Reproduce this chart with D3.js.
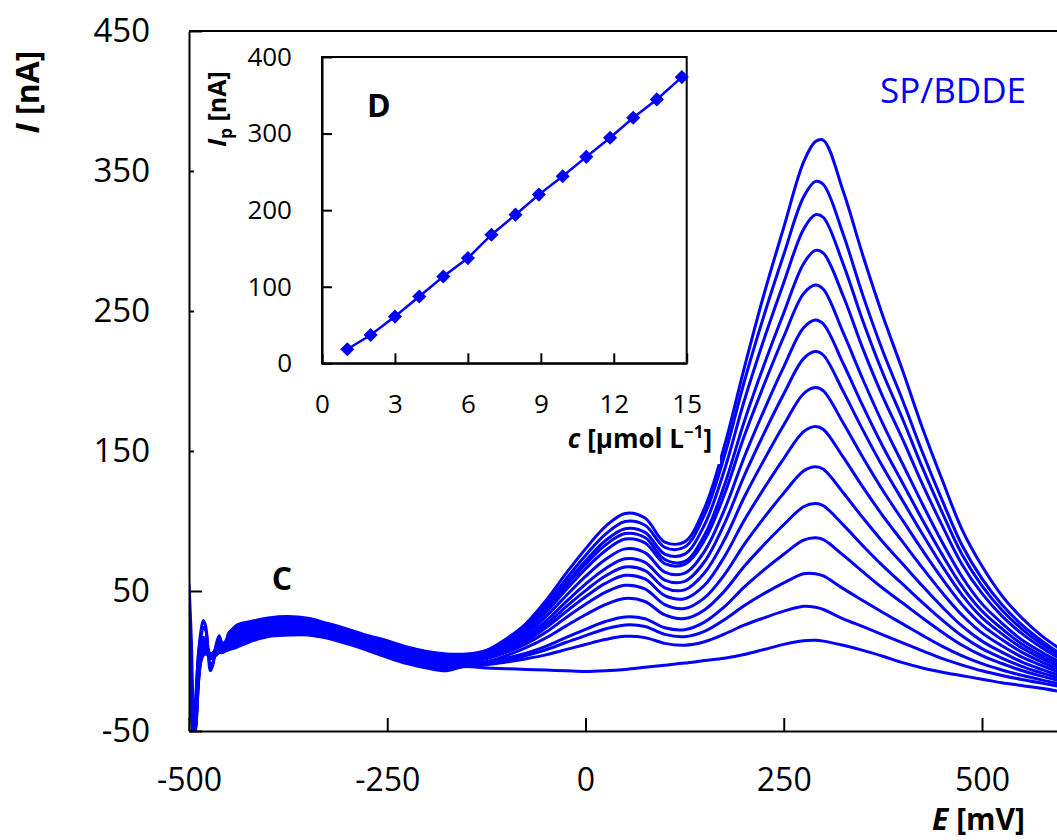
<!DOCTYPE html>
<html>
<head>
<meta charset="utf-8">
<script src="https://cdn.jsdelivr.net/npm/d3@7"></script>
<style>
  html, body { margin: 0; padding: 0; background: #ffffff; }
  svg { display: block; font-family: "Open Sans", "DejaVu Sans", sans-serif; }
</style>
</head>
<body>
<svg id="chart" width="1057" height="840"></svg>
<script>
// Potential grid (mV) shared by every voltammogram
const potentials = [-500,-497,-494,-491,-488,-485,-482,-479,-476,-473,-470,-466,-462,-458,-454,-450,
  -440,-425,-400,-375,-350,-325,-300,-275,-250,-225,-200,-175,
  -150,-125,-100,-75,-50,-25,0,25,50,75,100,125,150,175,200,225,250,275,290,
  300,325,350,375,400,425,450,475,500,525,550,575,600];

// Current (nA) of each DP voltammogram, lowest to highest concentration
const curve01 = [5,-28,-55,-42,-12,2,6,7,6,4,4,5,7,8,9,10,
  12.2,15.6,19.5,20.5,20.4,17.8,13.8,9.3,4.4,-0.1,-3.3,-5.1,
  -4,-5,-5.5,-6,-6.5,-7,-7.5,-7,-6,-4.5,-3,-1.5,0.3,2,4.6,8.2,11.9,14.5,14.8,
  14.2,11.2,7.6,3.4,-1.2,-5,-8,-10.5,-13,-15.5,-17.5,-19.5,-22];
const curve02 = [3,-30,-58,-45,-15,0,5,6,5,4,3,5,6,7,8,9,
  11,14.5,18.5,19.5,19.5,17,13,8.5,3.5,-1,-4.2,-6,
  -3.5,-2.7,-0.8,1.6,4.4,8.1,11.8,15.3,17.6,16.7,12.6,11.3,13.8,19.2,25.6,30.8,35.6,39.1,38.4,
  36.8,30.1,24.5,18.7,13,7.3,1.7,-2.9,-7,-10.3,-13.2,-15.8,-18.3];
const curve03 = [9,-16,-55,-35,-5,7,11,10,6,2,3,6,9,8,9,12,
  13.4,16.7,20.5,21.5,21.3,18.6,14.6,10.1,5.3,0.8,-2.4,-4.2,
  -2.2,-1.4,0.9,3.9,8.0,13.2,18.1,22.9,25.8,24.7,19.0,17.4,21.2,29.5,39.4,48.1,55.8,62.3,62.4,
  60.8,51.7,43.1,34.6,26.5,18.3,10.5,3.7,-1.9,-6.4,-10.2,-13.5,-16.5];
const curve04 = [6,-22,-56,-40,-10,3,8,9,7,5,5,7,9,10,11,13,
  15.3,18.5,22.1,23.1,22.7,19.9,15.9,11.4,6.7,2.2,-1.0,-2.8,
  -1.4,-0.6,2.0,5.6,10.5,16.7,22.6,28.2,31.5,30.2,23.7,22.4,27.8,38.6,52.7,65.1,76.3,86.3,88.0,
  86.7,75.6,63.6,52.0,41.4,30.7,20.5,11.2,3.8,-1.8,-6.8,-10.8,-14.4];
const curve05 = [4,-26,-57,-44,-14,0,4,5,4,2,2,4,6,6,7,8,
  9.8,13.4,17.5,18.5,18.6,16.2,12.2,7.7,2.6,-1.9,-5.1,-6.9,
  -2.9,-0.7,3.8,9.5,16.4,24.9,33.0,40.3,44.7,42.5,32.9,30.3,36.5,49.8,67.5,83.0,97.3,110.2,112.5,
  110.9,97.2,82.2,68.0,54.9,41.7,29.2,17.8,8.8,2.1,-3.8,-8.5,-12.6];
const curve06 = [10,-14,-55,-33,-3,9,13,12,7,3,4,8,11,10,11,15,
  17.5,20.4,23.9,24.9,24.4,21.3,17.3,12.8,8.4,3.9,0.7,-1.1,
  0,1.6,6.1,12.2,20.5,30.8,40.5,49.0,54.1,51.5,40.3,37.5,45.1,61.5,83.1,102.2,119.9,135.7,138.7,
  136.9,120.2,102.1,85.0,69.3,53.5,38.5,24.9,14.2,6.3,-0.6,-6.0,-10.8];
const curve07 = [8,-18,-56,-36,-6,6,10,10,6,3,4,7,10,10,12,16,
  18.6,21.4,24.8,25.8,25.2,22.0,18.0,13.5,9.2,4.7,1.5,-0.3,
  0.8,2.5,7.5,14.2,23.7,35.0,45.9,55.4,61.2,58.6,46.7,44.5,54.1,74.3,100.3,123.2,144.6,163.8,167.5,
  165.4,145.6,124.0,103.7,85.1,66.5,48.7,32.7,20.1,10.9,2.9,-3.2,-8.7];
const curve08 = [7,-24,-55,-38,-8,4,9,9,7,5,5,7,9,9,10,12,
  14.4,17.6,21.3,22.3,22.0,19.2,15.2,10.7,6.0,1.5,-1.7,-3.5,
  -0.5,2.0,8.0,15.8,26.0,38.5,50.3,60.7,67.1,64.6,52.3,50.8,62.9,86.4,116.8,143.5,168.6,190.9,195.3,
  192.9,170.0,145.2,121.8,100.4,79.0,58.6,40.2,25.8,15.3,6.3,-0.6,-6.7];
const curve09 = [11,-12,-55,-30,-2,10,15,14,8,3,4,9,13,11,12,17,
  20.7,23.4,26.6,27.6,26.8,23.5,19.5,15.0,10.8,6.3,3.1,1.3,
  1.7,3.7,9.6,17.4,28.5,42.0,54.9,65.9,73.0,70.5,57.8,56.9,70.9,97.8,132.0,162.4,190.7,216.0,221.0,
  218.4,192.6,164.7,138.5,114.5,90.6,67.7,47.1,31.0,19.4,9.4,1.8,-4.8];
const curve10 = [5,-27,-57,-41,-11,2,7,8,6,4,4,6,8,9,11,13,
  16.3,19.3,22.9,23.9,23.5,20.5,16.5,12.0,7.5,3.0,-0.2,-2.0,
  0.5,3.4,10.4,19.4,31.7,46.3,60.4,72.5,80.1,77.4,63.5,62.8,78.3,107.8,145.4,178.9,210.1,238.0,243.6,
  240.7,212.5,181.9,153.2,127.0,100.7,75.8,53.2,35.7,23.1,12.2,4.0,-3.2];
const curve11 = [12,-10,-55,-28,0,12,17,15,8,2,3,10,15,12,13,18,
  21.8,24.4,27.5,28.5,27.6,24.2,20.2,15.7,11.6,7.1,3.9,2.1,
  2.8,5.1,12.1,21.4,34.7,50.5,65.8,78.8,87.1,84.4,69.5,69.1,86.2,118.8,160.3,197.1,231.6,262.4,268.6,
  265.5,234.5,200.9,169.4,140.7,112.0,84.6,60.0,40.8,27.1,15.2,6.4,-1.4];
const curve12 = [6,-20,-56,-38,-9,4,9,10,7,5,6,8,10,11,13,15,
  19.6,22.4,25.7,26.7,26.0,22.8,18.8,14.3,10.0,5.5,2.3,0.5,
  2.0,4.9,12.6,22.7,36.6,53.4,69.1,82.8,91.0,88.2,72.5,71.1,89.8,125.3,170.7,211.3,248.6,283.8,293.3,
  291.4,260.7,222.8,188.7,158.3,126.2,96.5,68.8,48.3,32.2,19.7,9.6,1.0];
const curve13 = [18,-5,-55,-25,5,17,24,22,9,-3,-1,9,17,12,10,20,
  24.2,26.6,29.5,30.5,29.4,25.8,21.8,17.3,13.4,8.9,5.7,3.9,
  4.1,6.4,13.8,23.6,38.0,55.3,71.5,85.9,94.5,91.9,76.4,76.3,97.2,136.1,185.5,229.6,270.2,308.4,318.8,
  316.8,283.5,242.5,205.5,172.7,137.9,105.8,75.9,53.7,36.4,23.0,12.1,2.9];
const curve14 = [9,-15,-55,-32,-4,9,14,13,8,4,5,9,12,12,14,18,
  23,25.5,28.5,29.5,28.5,25,21,16.5,12.5,8,4.8,3,
  3.8,6.5,14.4,25.0,40.2,58.3,75.4,90.5,99.6,97.0,81.2,81.4,104.3,146.1,199.1,246.6,290.3,331.4,342.6,
  340.4,304.8,260.8,221.2,186.1,148.9,114.5,82.5,58.8,40.3,26.0,14.5,4.6];
const curve15 = [55,14,-55,-22,6,21,29,25,7,-7,-3,11,18,11,8,18,
  25.6,27.9,30.7,31.7,30.5,26.8,22.8,18.3,14.5,10.0,6.8,5.0,
  5.0,7.6,15.8,26.8,43.0,62.2,80.1,96.0,105.4,102.1,84.9,85.1,109.1,153.2,208.9,261.8,309.7,356.3,371.0,
  372.0,335.5,289.3,246.4,207.3,166.3,129.1,93.7,67.8,46.7,30.9,18.1,8.0];

const voltammograms = [curve01, curve02, curve03, curve04, curve05, curve06, curve07, curve08,
  curve09, curve10, curve11, curve12, curve13, curve14, curve15];

const xTicks = [-500, -250, 0, 250, 500];
const yTicks = [-50, 50, 150, 250, 350, 450];

// Calibration: peak current vs. concentration
const concentrations = [1.04, 2.0, 3.0, 4.0, 4.99, 6.0, 6.97, 7.96, 8.92, 9.9, 10.87, 11.85, 12.8, 13.77, 14.8];
const peakCurrents = [18.3, 37, 61, 87.2, 113.4, 137.4, 167.9, 194.1, 220.3, 244.3, 269.6, 294.5, 320.7, 344.6, 373.8];
const insetXTicks = [0, 3, 6, 9, 12, 15];
const insetYTicks = [0, 100, 200, 300, 400];

const W = 1057, H = 840;
const blue = '#0000ff';
const fontFamily = '"Open Sans", "DejaVu Sans", sans-serif';
const svg = d3.select('#chart');

svg.append('rect').attr('width', W).attr('height', H).attr('fill', '#ffffff');

// ---- main voltammogram panel ----
const x = d3.scaleLinear().domain([-500, 600]).range([189, 1061.3]);
const y = d3.scaleLinear().domain([-50, 450]).range([731, 31]);

svg.append('defs').append('clipPath').attr('id', 'plotClip')
  .append('rect')
  .attr('x', x(-500)).attr('y', y(450))
  .attr('width', W - x(-500)).attr('height', y(-50) - y(450));

const trace = d3.line()
  .x((d, i) => x(potentials[i]))
  .y(d => y(d))
  .curve(d3.curveCatmullRom.alpha(0.5));

svg.append('g').attr('clip-path', 'url(#plotClip)')
  .selectAll('path').data(voltammograms).join('path')
  .attr('d', trace)
  .attr('fill', 'none')
  .attr('stroke', blue)
  .attr('stroke-width', 3)
  .attr('stroke-linejoin', 'round')
  .attr('stroke-linecap', 'round');

function styleAxis(g, size) {
  g.attr('font-family', fontFamily).attr('font-size', size);
  g.select('.domain').attr('stroke', '#000').attr('stroke-width', 2);
  g.selectAll('.tick line').attr('stroke', '#000').attr('stroke-width', 2);
  g.selectAll('.tick text').attr('fill', '#000');
}

const gx = svg.append('g')
  .attr('transform', `translate(0,${y(-50)})`)
  .call(d3.axisBottom(x).tickValues(xTicks).tickFormat(d => String(d))
    .tickSizeInner(-13).tickSizeOuter(0).tickPadding(37));
styleAxis(gx, 32);

const gy = svg.append('g')
  .attr('transform', `translate(${x(-500)},0)`)
  .call(d3.axisLeft(y).tickValues(yTicks).tickFormat(d => String(d))
    .tickSizeInner(-13).tickSizeOuter(0).tickPadding(39));
styleAxis(gy, 33);

// top frame line
svg.append('line')
  .attr('x1', x(-500)).attr('x2', W)
  .attr('y1', y(450)).attr('y2', y(450))
  .attr('stroke', '#000').attr('stroke-width', 2);

// axis titles and panel labels
svg.append('text')
  .attr('transform', `translate(38.5,92) rotate(-90)`)
  .attr('text-anchor', 'middle')
  .attr('font-family', fontFamily).attr('font-size', 32).attr('font-weight', 'bold')
  .call(t => {
    t.append('tspan').attr('font-style', 'italic').text('I');
    t.append('tspan').text(' [nA]');
  });

svg.append('text')
  .attr('x', 1025).attr('y', 830)
  .attr('text-anchor', 'end')
  .attr('font-family', fontFamily).attr('font-size', 30).attr('font-weight', 'bold')
  .call(t => {
    t.append('tspan').attr('font-style', 'italic').text('E');
    t.append('tspan').text(' [mV]');
  });

svg.append('text')
  .attr('x', 282).attr('y', 590)
  .attr('text-anchor', 'middle')
  .attr('font-family', fontFamily).attr('font-size', 32).attr('font-weight', 'bold')
  .text('C');

svg.append('text')
  .attr('x', 1026).attr('y', 103)
  .attr('text-anchor', 'end')
  .attr('font-family', fontFamily).attr('font-size', 35)
  .attr('fill', blue)
  .text('SP/BDDE');

// ---- inset calibration plot ----
const ix = d3.scaleLinear().domain([0, 15]).range([322, 686.7]);
const iy = d3.scaleLinear().domain([0, 400]).range([363.3, 57]);
const inset = svg.append('g');

inset.append('rect')
  .attr('x', 194).attr('y', 34).attr('width', 526).attr('height', 430)
  .attr('fill', '#ffffff');

const igx = inset.append('g')
  .attr('transform', `translate(0,${iy(0)})`)
  .call(d3.axisBottom(ix).tickValues(insetXTicks).tickFormat(d => String(d))
    .tickSizeInner(-10).tickSizeOuter(0).tickPadding(31));
styleAxis(igx, 26);

const igy = inset.append('g')
  .attr('transform', `translate(${ix(0)},0)`)
  .call(d3.axisLeft(iy).tickValues(insetYTicks).tickFormat(d => String(d))
    .tickSizeInner(-10).tickSizeOuter(0).tickPadding(30));
styleAxis(igy, 26);

inset.append('rect')
  .attr('x', ix(0)).attr('y', iy(400))
  .attr('width', ix(15) - ix(0)).attr('height', iy(0) - iy(400))
  .attr('fill', 'none').attr('stroke', '#000').attr('stroke-width', 2);

inset.append('path')
  .datum(peakCurrents)
  .attr('d', d3.line().x((d, i) => ix(concentrations[i])).y(d => iy(d)))
  .attr('fill', 'none').attr('stroke', blue).attr('stroke-width', 2.5);

inset.selectAll('path.marker').data(peakCurrents).join('path')
  .attr('class', 'marker')
  .attr('transform', (d, i) => `translate(${ix(concentrations[i])},${iy(d)}) rotate(45)`)
  .attr('d', d3.symbol(d3.symbolSquare, 100))
  .attr('fill', blue);

inset.append('text')
  .attr('x', 367).attr('y', 117)
  .attr('font-family', fontFamily).attr('font-size', 32).attr('font-weight', 'bold')
  .text('D');

inset.append('text')
  .attr('x', 712).attr('y', 448)
  .attr('text-anchor', 'end')
  .attr('font-family', fontFamily).attr('font-size', 26).attr('font-weight', 'bold')
  .call(t => {
    t.append('tspan').attr('font-style', 'italic').text('c');
    t.append('tspan').text(' [µmol L');
    t.append('tspan').attr('font-size', 17).attr('dy', -10).text('−1');
    t.append('tspan').attr('dy', 10).text(']');
  });

inset.append('text')
  .attr('transform', `translate(226,109) rotate(-90)`)
  .attr('text-anchor', 'middle')
  .attr('font-family', fontFamily).attr('font-size', 25).attr('font-weight', 'bold')
  .call(t => {
    t.append('tspan').attr('font-style', 'italic').text('I');
    t.append('tspan').attr('font-size', 17).attr('dy', 6).text('p');
    t.append('tspan').attr('dy', -6).text(' [nA]');
  });
</script>
</body>
</html>
